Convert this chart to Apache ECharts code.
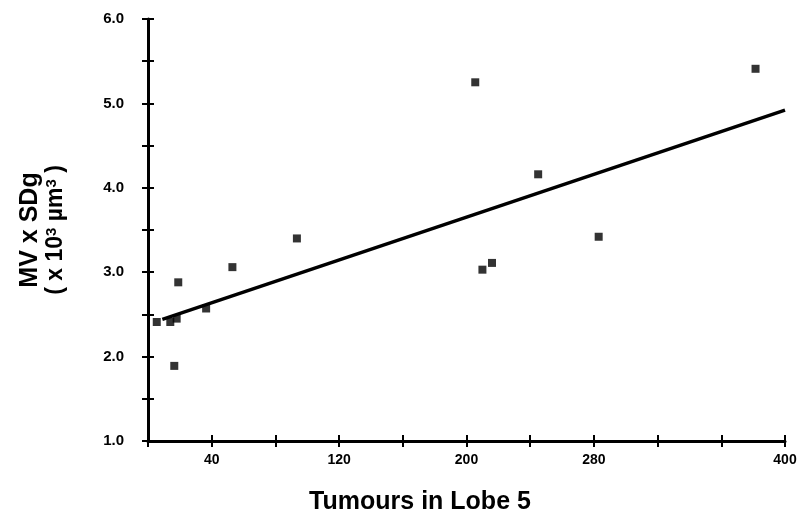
<!DOCTYPE html>
<html>
<head>
<meta charset="utf-8">
<script src="https://cdn.jsdelivr.net/npm/echarts@6/dist/echarts.min.js"></script>
<style>html,body{margin:0;padding:0;background:#fff}#c{width:801px;height:513px}</style>
</head>
<body>
<div id="c"></div>
<script>
// Data
const tumourCounts = [5.5, 14, 18, 16.5, 19, 36.5, 53, 93.5, 205.5, 210, 216, 245, 283, 381.5];
const mvSdg = [2.41, 2.41, 2.45, 1.89, 2.88, 2.57, 3.06, 3.40, 5.25, 3.03, 3.11, 4.16, 3.42, 5.41];
const fitLineX = [9, 400];
const fitLineY = [2.44, 4.92];
const xTickLabels = [40, 120, 200, 280, 400];
const yTickLabels = [1, 2, 3, 4, 5, 6];
const xTitle = 'Tumours in Lobe 5';
const yTitleLine1 = 'MV x SDg';
const yTitleLine2 = '( x 10{sup|3} µm{sup|3} )';

const FONT = '"Liberation Sans", Arial, sans-serif';
const scatterData = tumourCounts.map((x, i) => [x, mvSdg[i]]);
const lineData = fitLineX.map((x, i) => [x, fitLineY[i]]);

const axisLine = {show: true, lineStyle: {color: '#000', width: 3}};
const tick = {show: true, length: 6, lineStyle: {color: '#000', width: 2}};

const chart = echarts.init(document.getElementById('c'), null, {renderer: 'canvas'});
chart.setOption({
  animation: false,
  backgroundColor: '#fff',
  grid: {left: 148, right: 16, top: 19, bottom: 72, containLabel: false},
  xAxis: [{
    type: 'value', min: 0, max: 400, interval: 40,
    axisLine: axisLine,
    axisTick: Object.assign({inside: false}, tick),
    splitLine: {show: false},
    axisLabel: {
      show: true, margin: 12, color: '#000', fontFamily: FONT, fontWeight: 'bold', fontSize: 14,
      formatter: v => xTickLabels.indexOf(v) >= 0 ? String(v) : ''
    }
  }, {
    type: 'value', min: 0, max: 400, interval: 40, position: 'bottom',
    axisLine: {show: false},
    axisTick: Object.assign({inside: true}, tick),
    splitLine: {show: false},
    axisLabel: {show: false}
  }],
  yAxis: [{
    type: 'value', min: 1, max: 6, interval: 0.5,
    axisLine: axisLine,
    axisTick: Object.assign({inside: false}, tick),
    splitLine: {show: false},
    axisLabel: {
      show: true, margin: 24, color: '#000', fontFamily: FONT, fontWeight: 'bold', fontSize: 15,
      formatter: v => yTickLabels.some(t => Math.abs(t - v) < 1e-9) ? v.toFixed(1) : ''
    }
  }, {
    type: 'value', min: 1, max: 6, interval: 0.5, position: 'left',
    axisLine: {show: false},
    axisTick: Object.assign({inside: true}, tick),
    splitLine: {show: false},
    axisLabel: {show: false}
  }],
  series: [{
    type: 'line', data: lineData, showSymbol: false, symbol: 'none',
    lineStyle: {color: '#000', width: 3.5}, z: 2
  }, {
    type: 'scatter', data: scatterData, symbol: 'rect', symbolSize: 8,
    itemStyle: {color: '#000'}, z: 3
  }],
  graphic: [{
    type: 'text', x: 420, y: 502,
    style: {text: xTitle, fill: '#000', font: 'bold 25px ' + FONT, align: 'center', verticalAlign: 'middle'}
  }, {
    type: 'text', x: 30, y: 230, rotation: Math.PI / 2,
    style: {text: yTitleLine1, fill: '#000', font: 'bold 25px ' + FONT, align: 'center', verticalAlign: 'middle'}
  }, {
    type: 'text', x: 56, y: 230, rotation: Math.PI / 2,
    style: {
      text: yTitleLine2, fill: '#000', font: 'bold 23px ' + FONT, align: 'center', verticalAlign: 'middle',
      rich: {sup: {font: 'bold 15px ' + FONT, fill: '#000', verticalAlign: 'top', padding: [0, 0, 9, 0]}}
    }
  }]
});
</script>
</body>
</html>
